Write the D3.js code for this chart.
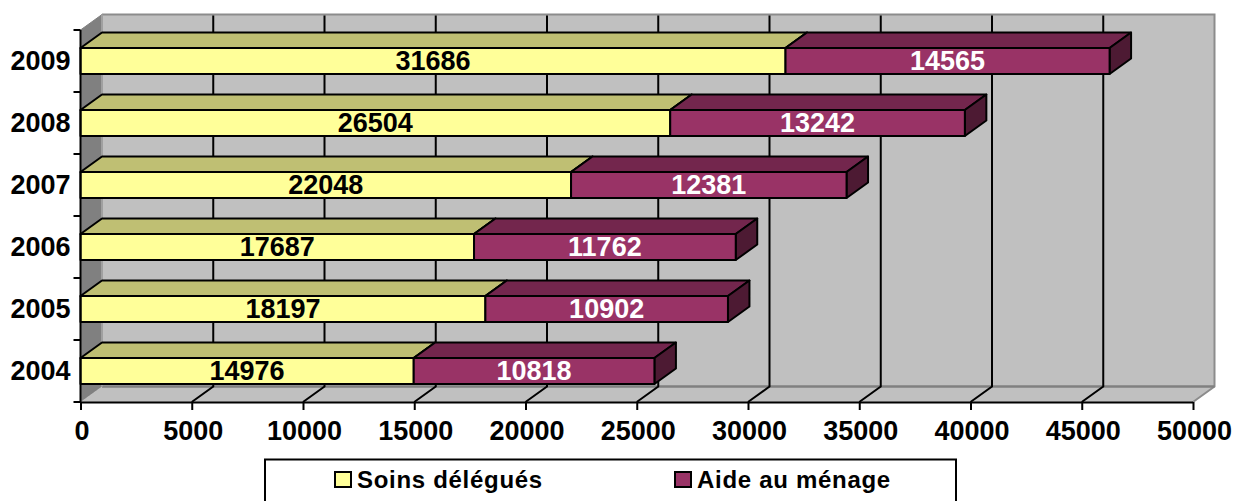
<!DOCTYPE html>
<html><head><meta charset="utf-8">
<script src="https://cdn.jsdelivr.net/npm/d3@7"></script>
<style>
html,body{margin:0;padding:0;background:#fff;overflow:hidden}
text{font-family:"Liberation Sans",Arial,sans-serif;font-weight:bold;fill:#000}
</style></head><body>
<svg id="c" width="1234" height="501"></svg>
<script>
const years = ["2004","2005","2006","2007","2008","2009"];
const soins = [14976,18197,17687,22048,26504,31686];
const aide = [10818,10902,11762,12381,13242,14565];
const xTicks = [0,5000,10000,15000,20000,25000,30000,35000,40000,45000,50000];
const seriesNames = ["Soins délégués","Aide au ménage"];
const palette = {
  soins:{front:"#ffff99",top:"#bfbf73",side:"#a6a660"},
  aide:{front:"#993366",top:"#73264d",side:"#4d1a33"}
};

const W=1234,H=501, X0=80.5, X1=1193, YB=402, YT=30, DX=21.5, DY=-15.5, FS=27;
const svg=d3.select("#c");
const x=d3.scaleLinear().domain([0,50000]).range([X0,X1]);
const y=d3.scaleBand().domain(years).range([YB,YT]).paddingInner(0.58).paddingOuter(0.29);
const path=d=>"M"+d.map(p=>p.join(",")).join("L")+"Z";

// walls
svg.append("path").attr("d",path([[X0+DX,YT+DY],[X1+DX,YT+DY],[X1+DX,YB+DY],[X0+DX,YB+DY]]))
  .attr("fill","#c0c0c0");
svg.append("path").attr("d",path([[X0,YT],[X0+DX,YT+DY],[X0+DX,YB+DY],[X0,YB]]))
  .attr("fill","#808080").attr("stroke","#808080");
svg.append("path").attr("d",path([[X0,YB],[X0+DX,YB+DY],[X1+DX,YB+DY],[X1,YB]]))
  .attr("fill","#c0c0c0");
svg.append("path").attr("d",`M${X0+DX},${YT+DY}H${X1+DX}V${YB+DY}L${X1},${YB}`)
  .attr("fill","none").attr("stroke","#8c8c8c").attr("stroke-width",2);
svg.append("line").attr("x1",X0+DX).attr("x2",X1+DX).attr("y1",YB+DY).attr("y2",YB+DY)
  .attr("stroke","#808080").attr("stroke-width",2.5);
svg.append("line").attr("x1",X0+DX).attr("x2",X0+DX).attr("y1",YT+DY).attr("y2",YB+DY)
  .attr("stroke","#a0a0a0").attr("stroke-width",2);

// gridlines
svg.append("g").selectAll("path").data(xTicks.slice(1,-1)).join("path")
  .attr("d",t=>`M${x(t)+DX},${YT+DY+1}V${YB+DY}L${x(t)},${YB}`)
  .attr("fill","none").attr("stroke","#000").attr("stroke-width",2);

// 3D stacked bars
const rows=years.map((yr,i)=>({yr,parts:[
  {k:"soins",a:0,b:soins[i]},{k:"aide",a:soins[i],b:soins[i]+aide[i]}]})).reverse();
const g=svg.append("g").attr("stroke","#000").attr("stroke-width",2).attr("stroke-linejoin","round");
rows.forEach(r=>{
  const t=y(r.yr), h=y.bandwidth();
  r.parts.forEach(p=>{
    const a=x(p.a), b=x(p.b), c=palette[p.k];
    g.append("path").attr("d",path([[a,t],[a+DX,t+DY],[b+DX,t+DY],[b,t]])).attr("fill",c.top);
    g.append("path").attr("d",path([[b,t],[b+DX,t+DY],[b+DX,t+h+DY],[b,t+h]])).attr("fill",c.side);
    g.append("path").attr("d",path([[a,t],[b,t],[b,t+h],[a,t+h]])).attr("fill",c.front);
  });
});

// data labels
rows.forEach(r=>{
  r.parts.forEach(p=>{
    svg.append("text").attr("x",(x(p.a)+x(p.b))/2).attr("y",y(r.yr)+y.bandwidth()/2+9)
      .attr("text-anchor","middle").attr("font-size",FS)
      .style("fill",p.k==="aide"?"#fff":"#000").text(p.b-p.a);
  });
});

// axes
const ax=svg.append("g").attr("transform",`translate(0,${YB})`)
  .call(d3.axisBottom(x).tickValues(xTicks).tickFormat(d3.format("d")).tickSize(8).tickPadding(14));
ax.select(".domain").attr("stroke","#000").attr("stroke-width",2).attr("d",`M${X0},0.5H${X1}`);
ax.selectAll(".tick line").attr("stroke","#000").attr("stroke-width",2);
ax.selectAll("text").attr("font-size",FS).attr("font-family",null).attr("dx",1).attr("dy","0.6em");

const ay=svg.append("g").attr("transform",`translate(${X0},0)`)
  .call(d3.axisLeft(y).tickSize(0).tickPadding(10));
ay.select(".domain").attr("stroke","#000").attr("stroke-width",2).attr("d",`M0,${YT}V${YB}`);
ay.selectAll("text").attr("font-size",FS).attr("font-family",null);
const step=y.step();
ay.append("g").selectAll("line").data(d3.range(years.length+1)).join("line")
  .attr("x1",-7).attr("x2",0).attr("y1",i=>YB-i*step).attr("y2",i=>YB-i*step)
  .attr("stroke","#000").attr("stroke-width",2);

// legend
svg.append("rect").attr("x",265).attr("y",459.5).attr("width",691).attr("height",60)
  .attr("fill","#fff").attr("stroke","#000").attr("stroke-width",2);
const lx=[335,675];
seriesNames.forEach((n,i)=>{
  svg.append("rect").attr("x",lx[i]).attr("y",472).attr("width",16).attr("height",15)
    .attr("fill",i?palette.aide.front:palette.soins.front).attr("stroke","#000").attr("stroke-width",2);
  svg.append("text").attr("x",lx[i]+22).attr("y",488).attr("font-size",24)
    .attr("letter-spacing",0.7).text(n);
});
</script></body></html>
